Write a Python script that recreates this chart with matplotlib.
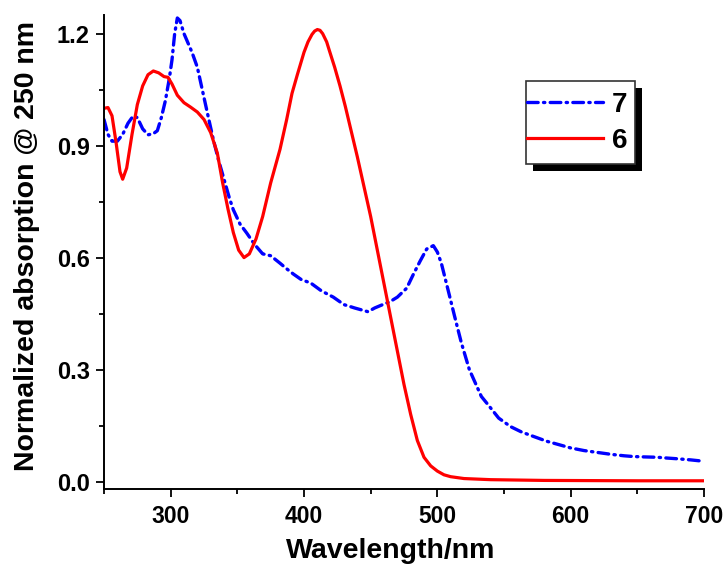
import matplotlib
matplotlib.use("Agg")
import matplotlib.pyplot as plt
from matplotlib.ticker import MultipleLocator, FormatStrFormatter
from matplotlib.patches import Rectangle

plt.rcParams['font.family'] = ['Liberation Sans', 'DejaVu Sans']
plt.rcParams['font.weight'] = 'bold'

# Series 6 (red, solid)
wl6 = [250, 253, 256, 259, 262, 264, 267, 271, 275, 279, 283, 287, 291, 295, 298,
       301, 305, 310, 315, 320, 325, 330, 335, 339, 343, 347, 351, 355, 359, 364,
       369, 375, 382, 387, 391, 395, 400, 403, 406, 408, 410, 412, 414, 417, 419,
       423, 427, 431, 435,
       440, 445, 450, 455, 460, 465, 470, 475, 480, 485, 490, 495, 500, 505, 510,
       520, 540, 580, 650, 700]
abs6 = [1.00, 1.002, 0.98, 0.91, 0.83, 0.81, 0.84, 0.93, 1.01, 1.06, 1.09, 1.10, 1.095, 1.085, 1.083,
        1.065, 1.035, 1.015, 1.003, 0.99, 0.97, 0.935, 0.88, 0.80, 0.73, 0.667, 0.62, 0.60, 0.61, 0.65,
        0.71, 0.80, 0.89, 0.97, 1.04, 1.09, 1.15, 1.178, 1.198, 1.207, 1.211, 1.209, 1.200, 1.178, 1.155,
        1.11, 1.06, 1.005, 0.945,
        0.87, 0.79, 0.71, 0.62, 0.53, 0.44, 0.35, 0.26, 0.18, 0.11, 0.065, 0.042, 0.028, 0.018, 0.013,
        0.008, 0.005, 0.003, 0.002, 0.002]

# Series 7 (blue, dash-dot)
wl7 = [250, 253, 256, 260, 264, 268, 272, 275, 279, 283, 287, 290, 293, 296, 299,
       301, 303, 305, 307, 310, 313, 316, 320, 324, 328, 332, 336, 340, 344, 347,
       352, 357, 363, 369, 375, 382, 387, 392, 398, 405, 413, 422, 430, 438, 445,
       448, 453, 459, 465, 470, 477, 482, 487, 492, 497, 500, 503, 508, 513, 518,
       524, 533, 538, 546, 555, 563, 572, 582, 592, 600, 610, 620, 630, 640, 647,
       655, 665, 672, 680, 690, 698, 700]
abs7 = [0.97, 0.93, 0.912, 0.912, 0.93, 0.96, 0.98, 0.975, 0.945, 0.929, 0.932, 0.94, 0.975, 1.02, 1.08,
        1.13, 1.20, 1.242, 1.235, 1.20, 1.175, 1.15, 1.11, 1.045, 0.98, 0.916, 0.86, 0.81, 0.76, 0.728,
        0.69, 0.666, 0.635, 0.61, 0.605, 0.585, 0.57, 0.556, 0.541, 0.532, 0.511, 0.494, 0.474, 0.465, 0.458,
        0.455, 0.465, 0.474, 0.483, 0.494, 0.518, 0.555, 0.59, 0.623, 0.632, 0.615, 0.585, 0.514, 0.442, 0.372,
        0.30, 0.228, 0.206, 0.17, 0.147, 0.133, 0.121, 0.108, 0.098, 0.09, 0.083, 0.078, 0.073, 0.069, 0.067,
        0.066, 0.065, 0.063, 0.061, 0.058, 0.055, 0.055]

W, H = 728, 568
fig = plt.figure(figsize=(W/100, H/100), dpi=100)
ax = fig.add_axes([104/W, 1 - 489/H, 600/W, (489 - 15)/H])

ax.plot(wl7, abs7, color='#0000ff', lw=2.4, linestyle=(0, (3.2, 1.6, 0.4, 1.6)),
        dash_capstyle='round', label='7')
ax.plot(wl6, abs6, color='#ff0000', lw=2.3, label='6')

ax.set_xlim(250, 700)
ax.set_ylim(-0.02, 1.25)
ax.xaxis.set_major_locator(MultipleLocator(100))
ax.xaxis.set_minor_locator(MultipleLocator(50))
ax.yaxis.set_major_locator(MultipleLocator(0.3))
ax.yaxis.set_minor_locator(MultipleLocator(0.15))
ax.yaxis.set_major_formatter(FormatStrFormatter('%.1f'))

for s in ['top', 'right']:
    ax.spines[s].set_visible(False)
for s in ['left', 'bottom']:
    ax.spines[s].set_linewidth(1.4)

ax.tick_params(which='major', direction='out', length=5.8, width=1.3)
ax.tick_params(which='minor', direction='out', length=3.6, width=1.3)
ax.tick_params(axis='y', which='major', labelsize=17, pad=4.5)
ax.tick_params(axis='x', which='major', labelsize=16.5, pad=6)
for lab in ax.get_xticklabels() + ax.get_yticklabels():
    lab.set_fontweight('bold')

ax.set_xlabel('Wavelength/nm', fontsize=20.5, fontweight='bold')
ax.set_ylabel('Normalized absorption @ 250 nm', fontsize=20.5, fontweight='bold')
ax.xaxis.set_label_coords(0.477, -0.104)
ax.yaxis.set_label_coords(-0.107, 0.512)

handles, labels = ax.get_legend_handles_labels()
leg = ax.legend(handles, labels, loc='center left',
                bbox_to_anchor=((527 - 104)/600, (489 - 123)/474),
                borderaxespad=0, handlelength=2.74, handletextpad=0.32,
                labelspacing=0.37, borderpad=0.0, frameon=False,
                prop={'weight': 'bold', 'size': 20})
leg.set_zorder(6)

# legend frame and drop shadow
fx0, fx1, fy0, fy1 = 526, 635, 81, 164
off = 7
shadow = Rectangle(((fx0 + off)/W, 1 - (fy1 + off)/H), (fx1 - fx0)/W, (fy1 - fy0)/H,
                   transform=fig.transFigure, facecolor='black', edgecolor='none',
                   zorder=4, clip_on=False)
frame = Rectangle((fx0/W, 1 - fy1/H), (fx1 - fx0)/W, (fy1 - fy0)/H,
                  transform=fig.transFigure, facecolor='white', edgecolor='#333333',
                  linewidth=1.2, zorder=5, clip_on=False)
ax.add_artist(shadow)
ax.add_artist(frame)

fig.savefig('out.png', dpi=100)
